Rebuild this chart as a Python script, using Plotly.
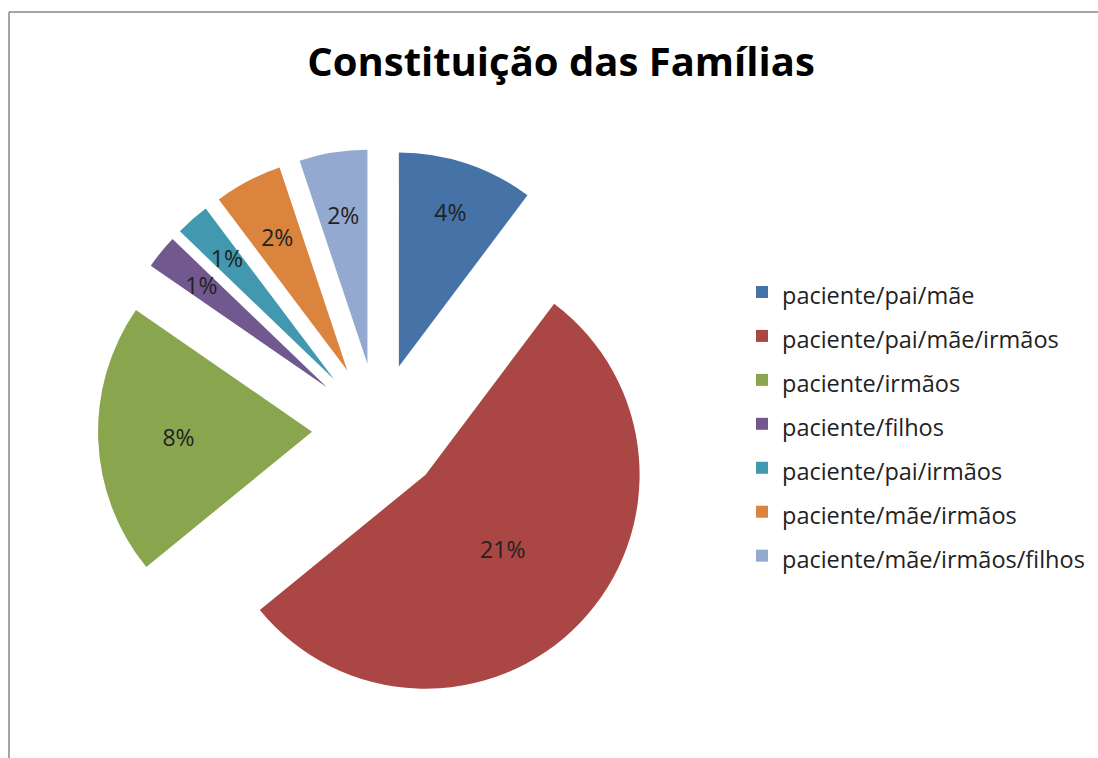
import plotly.graph_objects as go

# Family composition categories and their shares (percent)
categories = [
    "paciente/pai/mãe",
    "paciente/pai/mãe/irmãos",
    "paciente/irmãos",
    "paciente/filhos",
    "paciente/pai/irmãos",
    "paciente/mãe/irmãos",
    "paciente/mãe/irmãos/filhos",
]
percentages = [4, 21, 8, 1, 1, 2, 2]
colors = ["#4572A7", "#AA4643", "#89A54E", "#71588F", "#4198AF", "#DB843D", "#93A9CF"]

W, H = 1098, 758
FONT = "Open Sans"
TEXT_COLOR = "#222222"
LABEL_SIZE = 23

# Pie geometry (pixels): centre, radius and how far every slice is pulled out
CX, CY = 378, 429
R_MAIN = 214
PULL_PX = 66

# Thin slices carry their labels on an inner, transparent copy of the pie so the
# percentages sit closer to the middle of the wedge
R_LABEL = 175
small = [v < 4 for v in percentages]


def domain_for(radius, pull):
    half = radius * (1 + pull)
    return dict(
        x=[(CX - half) / W, (CX + half) / W],
        y=[1 - (CY + half) / H, 1 - (CY - half) / H],
    )


# Legend row height is driven by the legend font size; the visible text is drawn smaller
legend_labels = [f'<span style="font-size:23.5px">{c}</span>' for c in categories]

main_pull = PULL_PX / R_MAIN
label_pull = PULL_PX / R_LABEL

fig = go.Figure()

fig.add_trace(
    go.Pie(
        labels=legend_labels,
        values=percentages,
        marker=dict(colors=colors, line=dict(width=0)),
        pull=[main_pull] * len(percentages),
        sort=False,
        direction="clockwise",
        rotation=0,
        texttemplate=["" if s else "%{value}%" for s in small],
        textposition="inside",
        insidetextorientation="horizontal",
        textfont=dict(family=FONT, size=LABEL_SIZE, color=TEXT_COLOR),
        hovertemplate="%{label}: %{value}%<extra></extra>",
        domain=domain_for(R_MAIN, main_pull),
    )
)

fig.add_trace(
    go.Pie(
        labels=legend_labels,
        values=percentages,
        marker=dict(colors=["rgba(0,0,0,0)"] * len(percentages), line=dict(width=0)),
        pull=[label_pull] * len(percentages),
        sort=False,
        direction="clockwise",
        rotation=0,
        texttemplate=["%{value}%" if s else "" for s in small],
        textposition="inside",
        insidetextorientation="horizontal",
        textfont=dict(family=FONT, size=LABEL_SIZE, color=TEXT_COLOR),
        hoverinfo="skip",
        showlegend=False,
        domain=domain_for(R_LABEL, label_pull),
    )
)

fig.update_layout(
    width=W,
    height=H,
    margin=dict(l=0, r=0, t=0, b=0),
    paper_bgcolor="white",
    plot_bgcolor="white",
    title=dict(
        text="<b>Constituição das Famílias</b>",
        font=dict(family=FONT, size=40, color="black"),
        x=561 / W,
        xanchor="center",
        y=1 - 62 / H,
        yanchor="middle",
    ),
    uniformtext=dict(minsize=LABEL_SIZE, mode="show"),
    legend=dict(
        x=742 / W,
        xanchor="left",
        y=1 - 265 / H,
        yanchor="top",
        font=dict(family=FONT, size=31.5, color=TEXT_COLOR),
        bgcolor="rgba(0,0,0,0)",
        traceorder="normal",
    ),
    shapes=[
        # chart frame: top and left edges
        dict(type="line", xref="paper", yref="paper",
             x0=9 / W, x1=1, y0=1 - 12 / H, y1=1 - 12 / H,
             line=dict(color="#878787", width=1.5)),
        dict(type="line", xref="paper", yref="paper",
             x0=9 / W, x1=9 / W, y0=0, y1=1 - 12 / H,
             line=dict(color="#878787", width=1.5)),
    ],
)

fig.write_html("out.html")
